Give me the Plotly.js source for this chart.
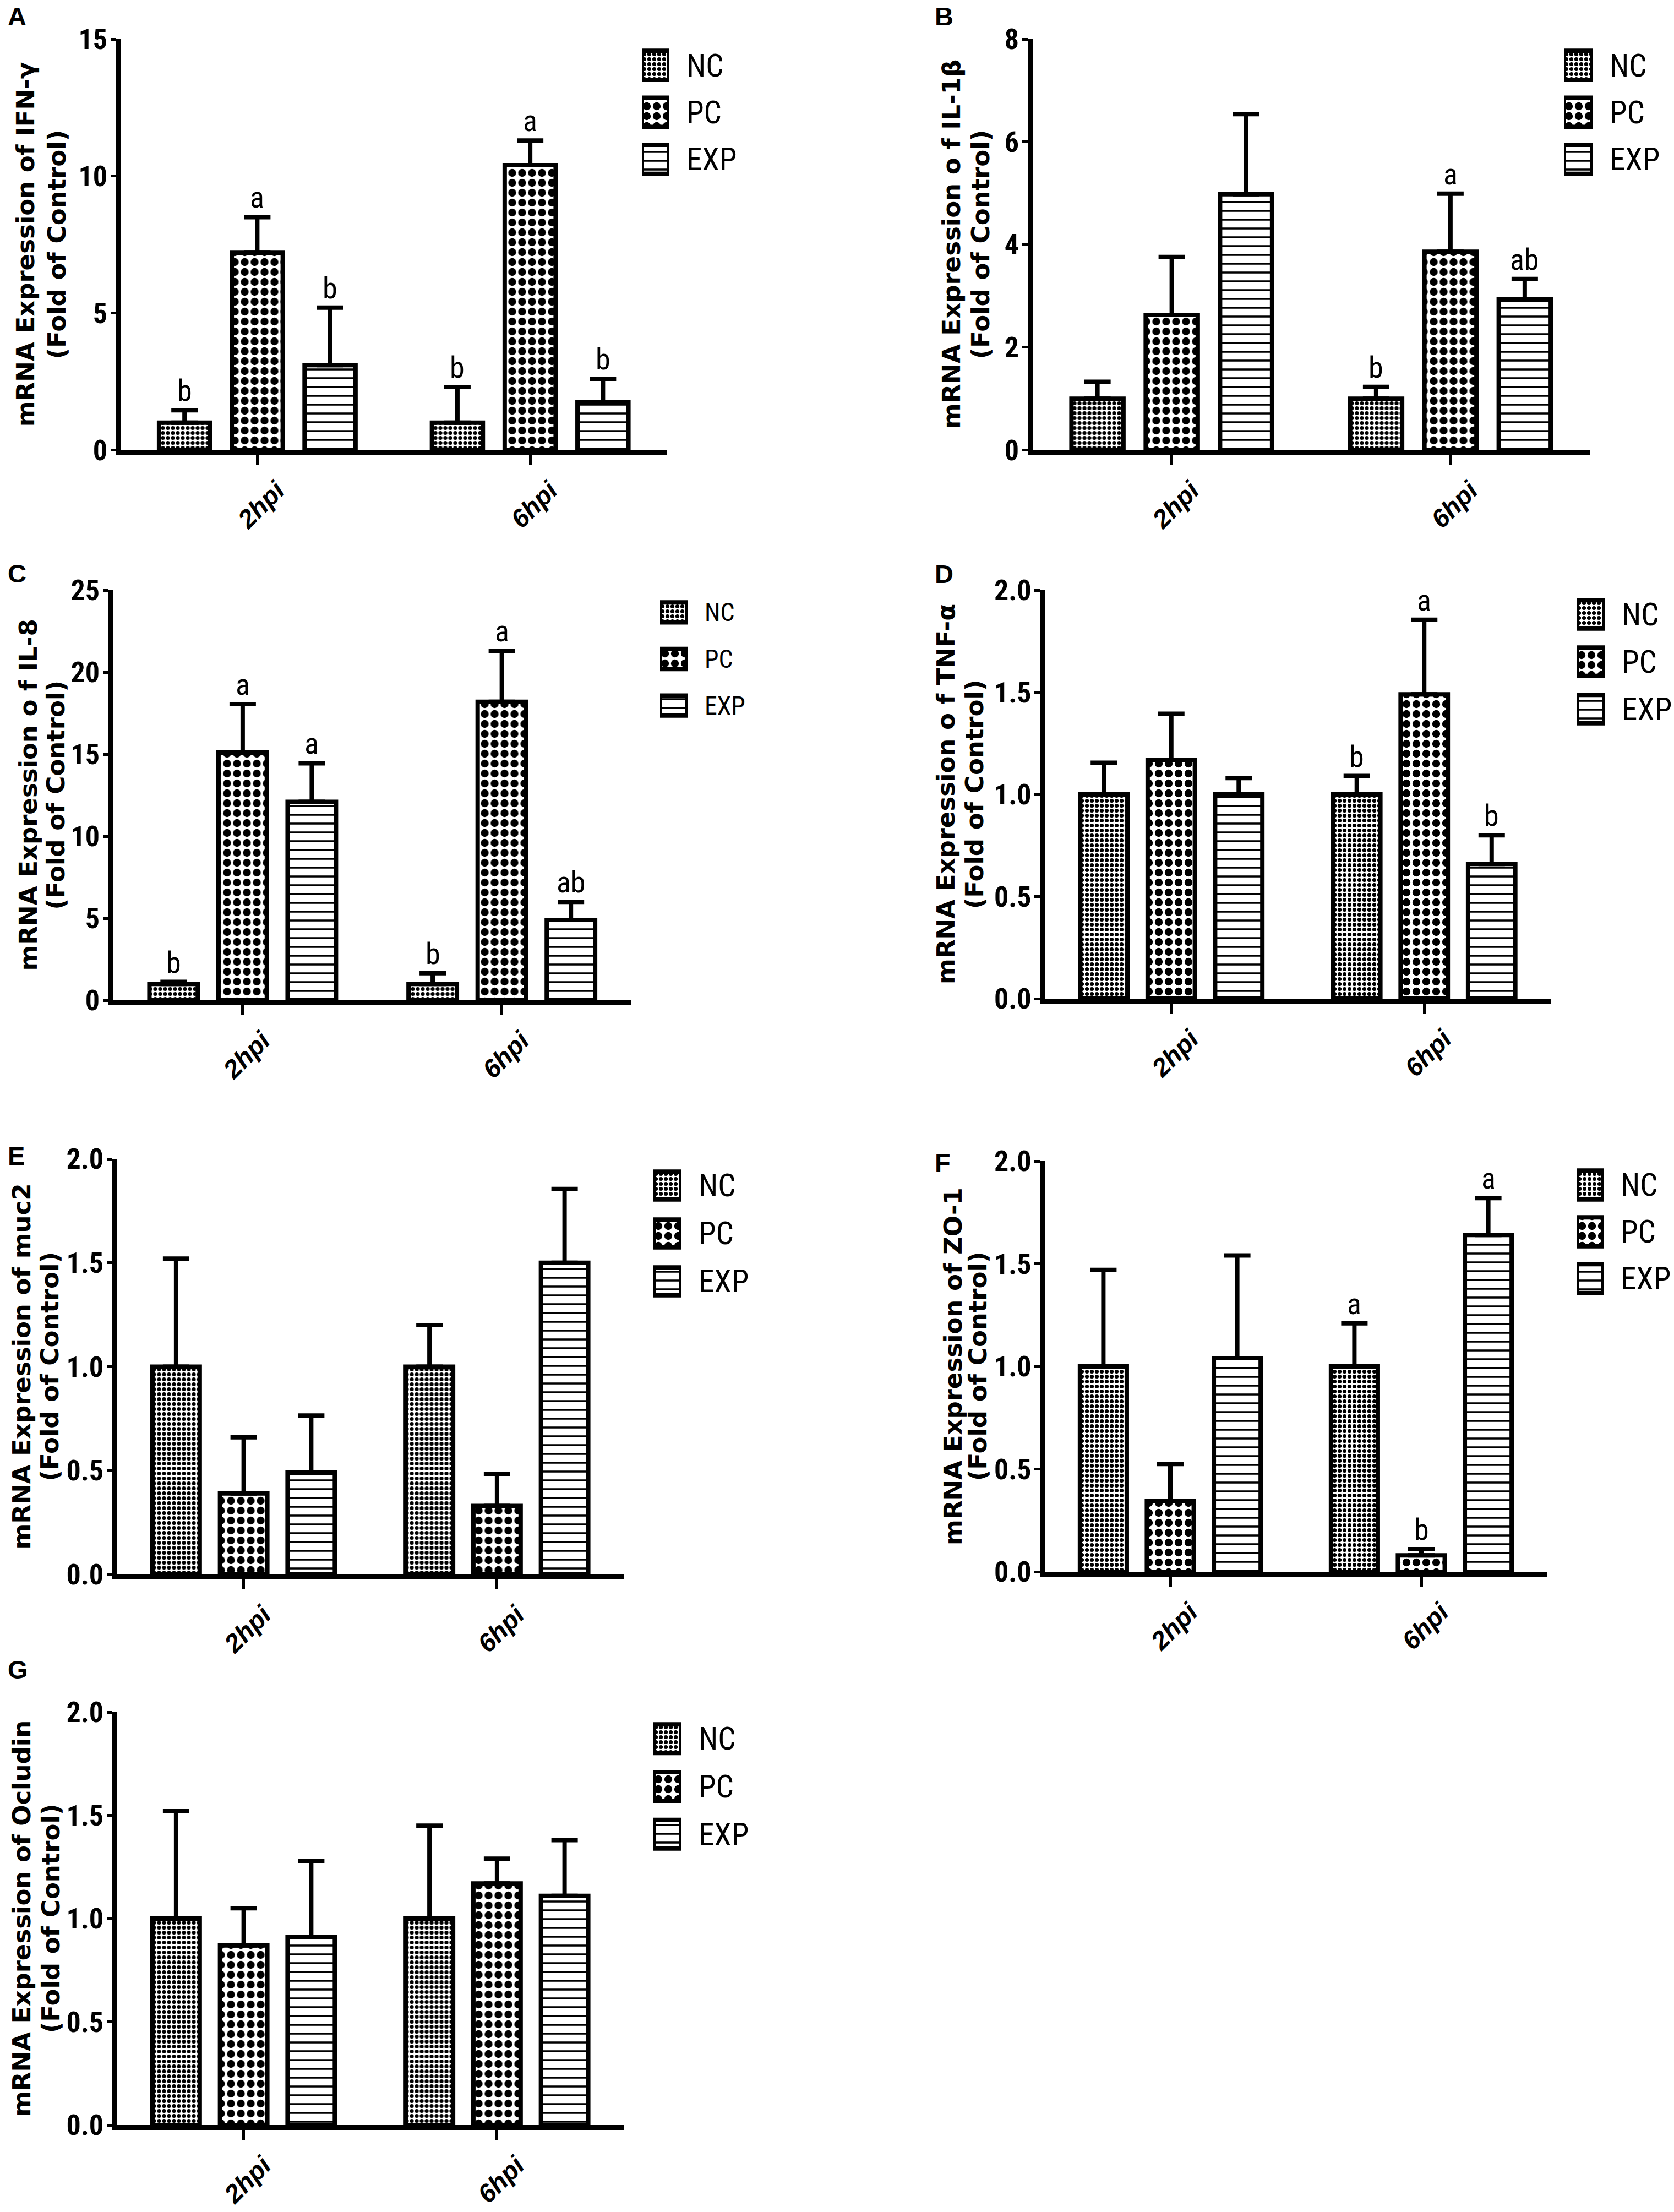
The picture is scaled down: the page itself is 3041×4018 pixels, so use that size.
<!DOCTYPE html>
<html><head><meta charset="utf-8">
<script src="https://cdn.plot.ly/plotly-3.0.1.min.js"></script>
<style>html,body{margin:0;padding:0;background:#fff}</style>
</head><body><div id="chart" style="width:3041px;height:4018px"></div>
<script>
const groups = ['2hpi', '6hpi'];
const seriesNames = ['NC', 'PC', 'EXP'];

// rows: NC, PC, EXP; columns: 2hpi, 6hpi
// A: IFN-γ
const ifnMean = [[1.0, 1.0], [7.2, 10.4], [3.1, 1.75]];
const ifnErr  = [[0.45, 1.3], [1.3, 0.9], [2.1, 0.85]];
const ifnSig  = [['b', 'b'], ['a', 'a'], ['b', 'b']];
// B: IL-1β
const il1Mean = [[1.0, 1.0], [2.63, 3.86], [4.98, 2.93]];
const il1Err  = [[0.33, 0.23], [1.13, 1.13], [1.56, 0.4]];
const il1Sig  = [['', 'b'], ['', 'a'], ['', 'ab']];
// C: IL-8
const il8Mean = [[1.0, 1.0], [15.1, 18.2], [12.1, 4.9]];
const il8Err  = [[0.12, 0.65], [2.95, 3.1], [2.35, 1.1]];
const il8Sig  = [['b', 'b'], ['a', 'a'], ['a', 'ab']];
// D: TNF-α
const tnfMean = [[1.0, 1.0], [1.17, 1.49], [1.0, 0.66]];
const tnfErr  = [[0.155, 0.09], [0.225, 0.365], [0.08, 0.14]];
const tnfSig  = [['', 'b'], ['', 'a'], ['', 'b']];
// E: muc2
const mucMean = [[1.0, 1.0], [0.39, 0.33], [0.49, 1.5]];
const mucErr  = [[0.52, 0.2], [0.27, 0.155], [0.275, 0.355]];
const mucSig  = [['', ''], ['', ''], ['', '']];
// F: ZO-1
const zoMean = [[1.0, 1.0], [0.345, 0.08], [1.04, 1.64]];
const zoErr  = [[0.47, 0.21], [0.18, 0.03], [0.5, 0.18]];
const zoSig  = [['', 'a'], ['', 'b'], ['', 'a']];
// G: Ocludin
const ocMean = [[1.0, 1.0], [0.87, 1.17], [0.91, 1.11]];
const ocErr  = [[0.52, 0.45], [0.18, 0.12], [0.37, 0.27]];
const ocSig  = [['', ''], ['', ''], ['', '']];

const yLine2 = '(Fold of Control)';

const W = 3041, H = 4018;
const fx = p => p / W;
const fy = p => 1 - p / H;
const NARROW = '"Roboto Condensed", "DejaVu Sans Condensed", "Liberation Sans", sans-serif';
const SANS = '"Liberation Sans", Arial, sans-serif';
const WIDE = '"DejaVu Sans", "Liberation Sans", sans-serif';
const patShape = ['.', '.', '-'];
const patSize = [9, 18, 16];
const patSolid = [0.5, 0.5, 0.22];
const BARGAP = 0.2;

const panels = [
  {label: 'A', gene: 'mRNA Expression of IFN-γ', mean: ifnMean, err: ifnErr, sig: ifnSig, ymax: 15, dtick: 5, fmt: '',
   box: [219.5, 1211, 71, 817.5], lab: [12, 1], tx: [46, 103], leg: [1166, 1216, 76, 332], legFont: 57, legW: 0.62},
  {label: 'B', gene: 'mRNA Expression o f IL-1β', mean: il1Mean, err: il1Err, sig: il1Sig, ymax: 8, dtick: 2, fmt: '',
   box: [1875.5, 2888, 71, 817.5], lab: [1696, 1], tx: [1728, 1781], leg: [2841, 2893, 76, 332], legFont: 57, legW: 0.62},
  {label: 'C', gene: 'mRNA Expression o f IL-8', mean: il8Mean, err: il8Err, sig: il8Sig, ymax: 25, dtick: 5, fmt: '',
   box: [205.5, 1147, 1072, 1817], lab: [12, 1013], tx: [51, 101], leg: [1199, 1249, 1070, 1324], legFont: 46, legW: 0.43},
  {label: 'D', gene: 'mRNA Expression o f TNF-α', mean: tnfMean, err: tnfErr, sig: tnfSig, ymax: 2, dtick: 0.5, fmt: '.1f',
   box: [1898, 2817, 1072, 1814], lab: [1696, 1014], tx: [1719, 1771], leg: [2864, 2915, 1073, 1331], legFont: 57, legW: 0.6},
  {label: 'E', gene: 'mRNA Expression of muc2', mean: mucMean, err: mucErr, sig: mucSig, ymax: 2, dtick: 0.5, fmt: '.1f',
   box: [212.5, 1133, 2105, 2860], lab: [12, 2071], tx: [39, 90], leg: [1187, 1238, 2110, 2371], legFont: 57, legW: 0.58},
  {label: 'F', gene: 'mRNA Expression of ZO-1', mean: zoMean, err: zoErr, sig: zoSig, ymax: 2, dtick: 0.5, fmt: '.1f',
   box: [1898, 2810, 2109, 2855], lab: [1696, 2083], tx: [1731, 1776], leg: [2865, 2913, 2110, 2365], legFont: 57, legW: 0.62},
  {label: 'G', gene: 'mRNA Expression of Ocludin', mean: ocMean, err: ocErr, sig: ocSig, ymax: 2, dtick: 0.5, fmt: '.1f',
   box: [212.5, 1133, 3110, 3860], lab: [12, 3004], tx: [39, 92], leg: [1187, 1238, 3115, 3375], legFont: 57, legW: 0.6}
];

const traces = [];
const annotations = [];
const layout = {
  width: W, height: H, margin: {l: 0, r: 0, t: 0, b: 0},
  paper_bgcolor: 'white', plot_bgcolor: 'rgba(0,0,0,0)',
  showlegend: false, barmode: 'group', bargap: BARGAP, bargroupgap: 0.3,
  font: {family: SANS, color: 'black'}
};

panels.forEach((p, i) => {
  const mi = 2 * i + 1, li = 2 * i + 2;
  const xa = mi === 1 ? 'x' : 'x' + mi, ya = mi === 1 ? 'y' : 'y' + mi;
  const lxa = 'x' + li, lya = 'y' + li;
  const b = p.box;
  seriesNames.forEach((s, si) => {
    traces.push({
      type: 'bar', name: s, x: groups, y: p.mean[si], xaxis: xa, yaxis: ya, cliponaxis: false,
      marker: {color: 'white', line: {color: 'black', width: 8},
        pattern: {shape: patShape[si], size: patSize[si], solidity: patSolid[si], fgcolor: 'black', bgcolor: 'white', fillmode: 'replace'}},
      error_y: {type: 'data', symmetric: false, array: p.err[si], arrayminus: p.err[si].map(() => 0),
        color: 'black', thickness: 8, width: 24},
      hoverinfo: 'skip'
    });
    const slot = (1 - BARGAP) / seriesNames.length;
    p.sig[si].forEach((t, gi) => {
      if (!t) return;
      annotations.push({xref: xa, yref: ya, x: gi + (si - 1) * slot, y: p.mean[si][gi] + p.err[si][gi],
        text: t, showarrow: false, yanchor: 'bottom', yshift: 2,
        font: {family: NARROW, size: 54, color: 'black'}});
    });
  });
  // legend swatches drawn as a small bar chart, one box per series
  traces.push({
    type: 'bar', orientation: 'h', y: seriesNames, x: seriesNames.map(() => 1), width: p.legW,
    xaxis: lxa, yaxis: lya, cliponaxis: false, hoverinfo: 'skip',
    marker: {color: 'white', line: {color: 'black', width: 8},
      pattern: {shape: patShape, size: patSize, solidity: patSolid, fgcolor: 'black', bgcolor: 'white', fillmode: 'replace'}}
  });
  layout['xaxis' + (mi === 1 ? '' : mi)] = {
    domain: [fx(b[0]), fx(b[1])], anchor: ya, type: 'category', range: [-0.5, 1.5],
    showline: true, linecolor: 'black', linewidth: 9, ticks: 'outside', ticklen: 18, tickwidth: 5, tickcolor: 'black',
    tickangle: -45, ticklabelshift: 36,
    tickfont: {family: SANS, size: 47, weight: 'bold', style: 'italic', color: 'black'},
    showgrid: false, zeroline: false, fixedrange: true
  };
  layout['yaxis' + (mi === 1 ? '' : mi)] = {
    domain: [fy(b[3]), fy(b[2])], anchor: xa, range: [0, p.ymax], tick0: 0, dtick: p.dtick, tickformat: p.fmt,
    showline: true, linecolor: 'black', linewidth: 9, ticks: 'outside', ticklen: 10, tickwidth: 5, tickcolor: 'black',
    ticklabelstandoff: -5,
    tickfont: {family: NARROW, size: 52, weight: 'bold', color: 'black'},
    showgrid: false, zeroline: false, fixedrange: true
  };
  layout['xaxis' + li] = {domain: [fx(p.leg[0]), fx(p.leg[1])], anchor: lya, range: [0, 1], visible: false, fixedrange: true};
  layout['yaxis' + li] = {
    domain: [fy(p.leg[3]), fy(p.leg[2])], anchor: lxa, type: 'category', range: [2.5, -0.5], side: 'right',
    showline: false, ticks: '', showgrid: false, zeroline: false, ticklabelstandoff: 30,
    tickfont: {family: NARROW, size: p.legFont, color: 'black'}, fixedrange: true
  };
  const yc = fy((b[2] + b[3]) / 2);
  [p.gene, yLine2].forEach((t, k) => {
    annotations.push({xref: 'paper', yref: 'paper', x: fx(p.tx[k]), y: yc, text: t, textangle: -90,
      showarrow: false, xanchor: 'center', yanchor: 'middle',
      font: {family: WIDE, size: 45, weight: 'bold', color: 'black'}});
  });
  annotations.push({xref: 'paper', yref: 'paper', x: fx(p.lab[0]), y: fy(p.lab[1]), text: p.label,
    showarrow: false, xanchor: 'left', yanchor: 'top',
    font: {family: SANS, size: 47, weight: 'bold', color: 'black'}});
});
layout.annotations = annotations;

Plotly.newPlot('chart', traces, layout, {staticPlot: true, displayModeBar: false});
</script>
</body></html>
